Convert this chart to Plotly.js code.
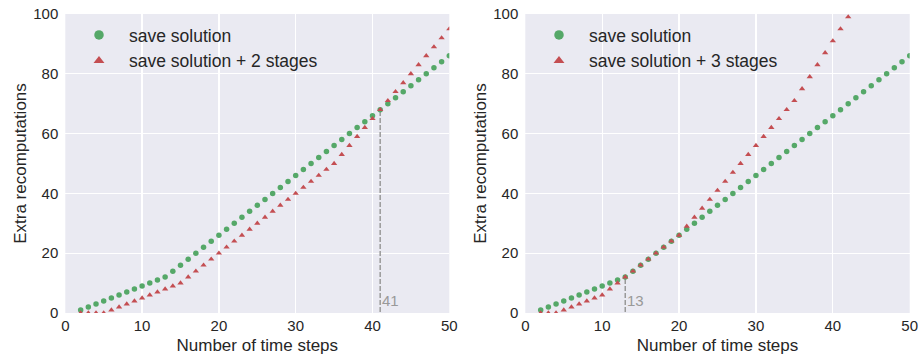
<!DOCTYPE html>
<html>
<head>
<meta charset="utf-8">
<script src="https://cdn.plot.ly/plotly-3.0.1.min.js"></script>
<style>html,body{margin:0;padding:0;background:#fff;}#chart{width:920px;height:358px;}</style>
</head>
<body>
<div id="chart"></div>
<script>
// ---- data ----
const steps = [2,3,4,5,6,7,8,9,10,11,12,13,14,15,16,17,18,19,20,21,22,23,24,25,26,27,28,29,30,31,32,33,34,35,36,37,38,39,40,41,42,43,44,45,46,47,48,49,50];
const saveSolution = [1,2,3,4,5,6,7,8,9,10,11,12,14,16,18,20,22,24,26,28,30,32,34,36,38,40,42,44,46,48,50,52,54,56,58,60,62,64,66,68,70,72,74,76,78,80,82,84,86];
const savePlus2 = [0,0,0,0,1,2,3,4,5,6,7,8,9,10,12,14,16,18,20,22,24,26,28,30,32,34,36,38,40,42,44,46,48,50,53,56,59,62,65,68,71,74,77,80,83,86,89,92,95];
const stepsPlus3 = [2,3,4,5,6,7,8,9,10,11,12,13,14,15,16,17,18,19,20,21,22,23,24,25,26,27,28,29,30,31,32,33,34,35,36,37,38,39,40,41,42];
const savePlus3 = [0,0,0,1,2,3,4,5,6,8,10,12,14,16,18,20,22,24,26,29,32,35,38,41,44,47,50,53,56,59,62,65,68,71,75,79,83,87,91,95,99];
const labelSave = 'save solution';
const labelPlus2 = 'save solution + 2 stages';
const labelPlus3 = 'save solution + 3 stages';
const xTicks = [0,10,20,30,40,50];
const yTicks = [0,20,40,60,80,100];

// crossover: first step where the staged series catches up with save solution
function crossover(xs, base, other) {
  for (let i = 1; i < other.length; i++) {
    if (other[i] >= base[i] && other[i-1] < base[i-1]) return {x: xs[i], y: base[i]};
  }
  return null;
}
const cLeft = crossover(steps, saveSolution, savePlus2);
const cRight = crossover(stepsPlus3, saveSolution.slice(0, stepsPlus3.length), savePlus3);

// ---- styles ----
const GREEN = '#55A868', RED = '#C44E52', TXT = '#262626', BG = '#EAEAF2', GRAYL = '#999999';
const FONT = 'Liberation Sans, Arial, sans-serif';

function pts(x, y, color, sym, xa, ya) {
  return {x: x, y: y, xaxis: xa, yaxis: ya, type: 'scatter', mode: 'markers', showlegend: false,
    marker: {color: color, size: sym === 'circle' ? 5.5 : 5.5, symbol: sym, line: {width: 0}}, cliponaxis: true, hoverinfo: 'skip'};
}
function legendItem(name, color, sym, leg, grp) {
  return {x: [null], y: [null], type: 'scatter', mode: 'markers', name: name, legend: leg, legendgroup: grp,
    marker: {color: color, size: 9.5, symbol: sym, line: {width: 0}}, showlegend: true};
}
function vline(c, xa, ya) {
  return {x: [c.x, c.x], y: [-2, c.y], xaxis: xa, yaxis: ya, type: 'scatter', mode: 'lines', showlegend: false,
    line: {color: GRAYL, width: 1.5, dash: '5px,2px'}, hoverinfo: 'skip'};
}

const traces = [
  vline(cLeft, 'x', 'y'),
  vline(cRight, 'x2', 'y2'),
  pts(steps, saveSolution, GREEN, 'circle', 'x', 'y'),
  pts(steps, savePlus2, RED, 'triangle-up', 'x', 'y'),
  pts(steps, saveSolution, GREEN, 'circle', 'x2', 'y2'),
  pts(stepsPlus3, savePlus3, RED, 'triangle-up', 'x2', 'y2'),
  legendItem(labelSave, GREEN, 'circle', 'legend', 'a'),
  legendItem(labelPlus2, RED, 'triangle-up', 'legend', 'b'),
  legendItem(labelSave, GREEN, 'circle', 'legend2', 'c'),
  legendItem(labelPlus3, RED, 'triangle-up', 'legend2', 'd')
];

const W = 920, H = 358;
const yDom = [(H - 313) / H, (H - 14) / H];
function xAxis(dom, anchor) {
  return {domain: dom, anchor: anchor, range: [0, 50], tickvals: xTicks, ticktext: xTicks.map(String),
    showgrid: true, gridcolor: '#ffffff', gridwidth: 1.3, zeroline: false, showline: false, ticks: '',
    tickfont: {family: FONT, size: 15, color: TXT}, ticklabelstandoff: 2,
    title: {text: 'Number of time steps', font: {family: FONT, size: 17, color: TXT}, standoff: 6}};
}
function yAxis(anchor) {
  return {domain: yDom, anchor: anchor, range: [0, 100], tickvals: yTicks, ticktext: yTicks.map(String),
    showgrid: true, gridcolor: '#ffffff', gridwidth: 1.3, zeroline: false, showline: false, ticks: '',
    tickfont: {family: FONT, size: 15, color: TXT}, ticklabelstandoff: 6,
    title: {text: 'Extra recomputations', font: {family: FONT, size: 17, color: TXT}, standoff: 2}};
}
function legend(xpx) {
  return {x: xpx / W, y: (H - 17) / H, xref: 'paper', yref: 'paper', xanchor: 'left', yanchor: 'top',
    bgcolor: 'rgba(0,0,0,0)', borderwidth: 0, font: {family: FONT, size: 17.5, color: TXT},
    tracegroupgap: 0, itemsizing: 'trace', itemwidth: 50};
}

const layout = {
  width: W, height: H,
  margin: {l: 0, r: 0, t: 0, b: 0},
  paper_bgcolor: '#ffffff', plot_bgcolor: BG,
  font: {family: FONT, color: TXT},
  xaxis: xAxis([65.3 / W, 449.3 / W], 'y'),
  yaxis: yAxis('x'),
  xaxis2: xAxis([525.3 / W, 909.7 / W], 'y2'),
  yaxis2: yAxis('x2'),
  legend: legend(69),
  legend2: legend(529),
  annotations: [
    {x: cLeft.x, y: 0, xref: 'x', yref: 'y', text: String(cLeft.x), showarrow: false, xanchor: 'left', yanchor: 'bottom',
     xshift: 0, yshift: 2, font: {family: FONT, size: 15, color: GRAYL}},
    {x: cRight.x, y: 0, xref: 'x2', yref: 'y2', text: String(cRight.x), showarrow: false, xanchor: 'left', yanchor: 'bottom',
     xshift: 0, yshift: 2, font: {family: FONT, size: 15, color: GRAYL}}
  ],
  showlegend: true
};

Plotly.newPlot('chart', traces, layout, {displayModeBar: false, staticPlot: true});
</script>
</body>
</html>
